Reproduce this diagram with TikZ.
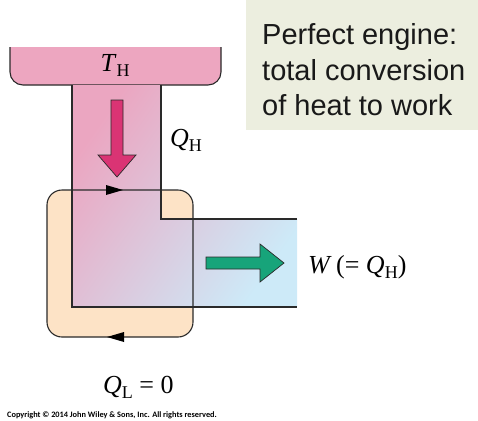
\documentclass[tikz,border=0pt]{standalone}
\usepackage{fontspec}
\setmainfont{Liberation Serif}
\newfontfamily\panelfont{Liberation Sans}
\newfontfamily\copyfont{Carlito}
\definecolor{resv}{HTML}{EDA6C0}
\definecolor{peach}{HTML}{FDE3C6}
\definecolor{panel}{HTML}{ECEEDF}
\definecolor{magarrow}{HTML}{DA3474}
\definecolor{grnarrow}{HTML}{17A47A}
\definecolor{edge}{HTML}{2A2A2A}
\definecolor{gradA}{HTML}{EBA6C1}
\definecolor{gradB}{HTML}{D6B8D2}
\definecolor{gradC}{HTML}{CDEAF8}
\newcommand\lowsub[1]{\raisebox{-0.2em}{\fontsize{18}{18}\selectfont #1}}
\begin{document}
\begin{tikzpicture}[x=1pt,y=-1pt,
  outline/.style={draw=edge, line width=1.1pt},
  bigfont/.style={font=\fontsize{26}{30}\selectfont, inner sep=0pt},
  paneltext/.style={font=\panelfont\fontsize{29}{34}\selectfont, inner sep=0pt, text=black!90},
  flowarrow/.style={draw=edge, line width=0.7pt, line join=miter}]
\useasboundingbox (0,0) rectangle (478,420);
% panel
\fill[panel] (246,0) rectangle (478,130);
\node[paneltext, anchor=base west] (p1) at (262,45) {Perfect engine:};
\node[paneltext, anchor=base west] (p2) at (262,80) {total conversion};
\node[paneltext, anchor=base west] (p3) at (262,115) {of heat to work};
% hot reservoir
\begin{scope}
  \clip (0,47) rectangle (300,100);
  \draw[outline, fill=resv, rounded corners=13] (10,20) rectangle (221,85);
\end{scope}
\node[bigfont, anchor=base] (TH) at (115,71) {\textit{T}\lowsub{H}};
% engine box fill
\fill[peach, rounded corners=15] (47,190) rectangle (193,337);
% L-shaped flow
\shade[shading=axis, top color=gradA, middle color=gradB, bottom color=gradC, shading angle=55]
  (72,85) -- (72,307) -- (297,307) -- (297,219) -- (161,219) -- (161,85) -- cycle;
% engine box outline
\draw[outline, rounded corners=15] (47,190) rectangle (193,337);
\fill[black] (123,190) -- (106,185) -- (106,195) -- cycle;
\fill[black] (107,337) -- (124,332) -- (124,342) -- cycle;
% L outline
\draw[outline, line join=miter] (72,85) -- (72,307) -- (297,307) (297,219) -- (161,219) -- (161,85);
% arrows
\draw[flowarrow, fill=magarrow] (111,100) -- (123,100) -- (123,155) -- (136,155) -- (117,177) -- (98,155) -- (111,155) -- cycle;
\draw[flowarrow, fill=grnarrow] (206,257) -- (260,257) -- (260,244) -- (284,263) -- (260,282) -- (260,269) -- (206,269) -- cycle;
% labels
\node[bigfont, anchor=base west] (QH) at (170,146) {\textit{Q}\lowsub{H}};
\node[bigfont, anchor=base west] (W) at (308,273) {\textit{W}\,(= \textit{Q}\lowsub{H})};
\node[bigfont, anchor=base west] (QL) at (103,393) {\textit{Q}\lowsub{L} = 0};
\node[font=\copyfont\bfseries\fontsize{8.3}{9}\selectfont, inner sep=0pt, anchor=base west] (copy) at (7,417)
  {Copyright © 2014 John Wiley \& Sons, Inc. All rights reserved.};
\end{tikzpicture}
\end{document}
